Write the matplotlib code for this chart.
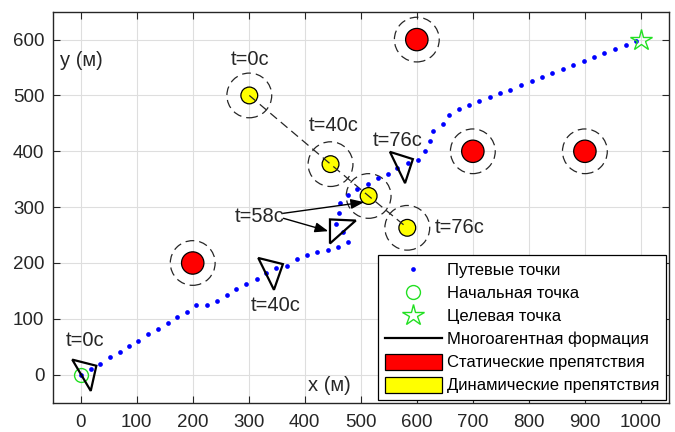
import matplotlib
matplotlib.use("Agg")
import matplotlib.pyplot as plt
from matplotlib.patches import Circle, Polygon, Patch
from matplotlib.lines import Line2D

plt.rcParams['font.family'] = ['Liberation Sans', 'DejaVu Sans']

# ---------------- data ----------------
path_x = [0, 18, 34.5, 52, 69.5, 87, 103, 121, 138, 155, 172, 189, 206, 225.5, 244,
          261, 278, 296, 314, 331.5, 349, 368, 386, 403.5, 422.5, 442, 459.5, 477,
          468, 455, 461, 463, 478, 494, 512.5, 530.5, 548, 565.5, 583.5, 602,
          615, 623, 629, 646, 657, 674.5, 692.5, 711, 730, 748, 767, 786, 805,
          824, 842, 861, 879, 898, 917, 935, 954, 973, 991.5]
path_y = [0, 10, 20, 31, 40.5, 51, 61, 72, 82, 92.5, 103, 113, 124, 125, 132,
          143, 154, 163, 172, 182, 191, 195.5, 207, 214.5, 219.5, 223, 229.5, 237,
          255, 270, 289, 308, 321, 332, 341, 351.5, 359, 370.5, 379.5, 384.5,
          400, 418.5, 437, 449.5, 465, 475, 482.5, 489.5, 497, 503.5, 510.5, 518, 525.5,
          532.5, 540, 547, 554, 561, 568.5, 575.5, 583, 590.5, 597.5]

start_pt = (0, 0)
goal_pt = (1000, 600)

static_x = [200, 600, 700, 900]
static_y = [200, 600, 400, 400]
static_r = 20
safety_r = 40

dyn_x = [301, 446, 514, 583]
dyn_y = [500, 377, 320, 263]
dyn_r = 15

formations = [
    [(-15, 27), (28, 16), (18, -29)],
    [(317, 209), (361, 198), (345, 152)],
    [(445, 278), (491, 276), (445, 235)],
    [(552, 399), (593, 386), (579, 343)],
]

labels = [
    ("t=0с", 7, 62),
    ("t=40с", 348, 124),
    ("t=58с", 319, 284),
    ("t=76с", 566, 419),
    ("t=0с", 302, 565),
    ("t=40с", 451, 447),
    ("t=76с", 677, 264),
]

arrows = [((362, 289), (506, 309)), ((362, 280), (442, 257))]

xticks = list(range(0, 1001, 100))
yticks = list(range(0, 601, 100))

legend_labels = ["Путевые точки", "Начальная точка", "Целевая точка",
                 "Многоагентная формация", "Статические препятствия",
                 "Динамические препятствия"]

# ---------------- figure ----------------
fig = plt.figure(figsize=(6.75, 4.32), dpi=100)
ax = fig.add_axes([0.078, 0.068, 0.913, 0.905])
ax.set_xlim(-50, 1050)
ax.set_ylim(-50, 650)
txtc = '#262626'

ax.set_xticks(xticks)
ax.set_yticks(yticks)
ax.grid(True, color='#dedede', lw=0.8, zorder=0)
ax.set_axisbelow(True)
ax.tick_params(direction='in', length=5, width=0.8, colors=txtc, labelsize=13.5,
               top=True, right=True)
ax.tick_params(axis='x', pad=8)
ax.tick_params(axis='y', pad=6)
for s in ax.spines.values():
    s.set_color(txtc)
    s.set_linewidth(1.0)

# static obstacles
for x, y in zip(static_x, static_y):
    ax.add_patch(Circle((x, y), safety_r, fill=False, ec=txtc, lw=0.9,
                        ls=(0, (7, 4)), zorder=2))
    ax.add_patch(Circle((x, y), static_r, fc='red', ec='k', lw=0.9, zorder=3))

# dynamic obstacles
for x, y in zip(dyn_x, dyn_y):
    ax.add_patch(Circle((x, y), safety_r, fill=False, ec=txtc, lw=0.9,
                        ls=(0, (7, 4)), zorder=2))
    ax.add_patch(Circle((x, y), dyn_r, fc='yellow', ec='k', lw=0.9, zorder=3))
ax.plot(dyn_x, dyn_y, color=txtc, lw=0.9, ls=(0, (7, 4)), zorder=4)

# path
ax.plot(path_x, path_y, ls='none', marker='o', ms=3.4, mfc='blue', mec='none', zorder=5)
ax.plot(*start_pt, ls='none', marker='o', ms=10, mfc='none', mec='#22e022', mew=1, zorder=6)
ax.plot(*goal_pt, ls='none', marker='*', ms=16, mfc='none', mec='#22e022', mew=1, zorder=6)

# formations
for tri in formations:
    ax.add_patch(Polygon(tri, closed=True, fill=False, ec='k', lw=1.6, zorder=7))

for t, x, y in labels:
    ax.text(x, y, t, fontsize=14.5, color=txtc, ha='center', va='center', zorder=8)

for (sx, sy), (ex, ey) in arrows:
    ax.annotate('', xy=(ex, ey), xytext=(sx, sy),
                arrowprops=dict(arrowstyle='-|>,head_length=0.8,head_width=0.3',
                                mutation_scale=10, color='k', lw=1,
                                shrinkA=0, shrinkB=0), zorder=8)

ax.text(405, -20, "x (м)", fontsize=14.5, color=txtc, ha='left', va='center')
ax.text(-36, 563, "y (м)", fontsize=14.5, color=txtc, ha='left', va='center')

handles = [
    Line2D([], [], ls='none', marker='o', ms=3.4, mfc='blue', mec='none'),
    Line2D([], [], ls='none', marker='o', ms=10, mfc='none', mec='#22e022', mew=1),
    Line2D([], [], ls='none', marker='*', ms=16, mfc='none', mec='#22e022', mew=1),
    Line2D([], [], color='k', lw=1.6),
    Patch(fc='red', ec='k', lw=0.9),
    Patch(fc='yellow', ec='k', lw=0.9),
]
leg = ax.legend(handles, legend_labels, loc='lower right', fontsize=12,
                frameon=True, fancybox=False, framealpha=1, edgecolor='k',
                borderaxespad=0.15, handlelength=3.4, handleheight=1.1,
                handletextpad=0.35, labelspacing=0.38, borderpad=0.4)
leg.get_frame().set_linewidth(0.9)
leg.set_zorder(10)
for txt in leg.get_texts():
    txt.set_color('k')

fig.savefig("out.png", dpi=100)
